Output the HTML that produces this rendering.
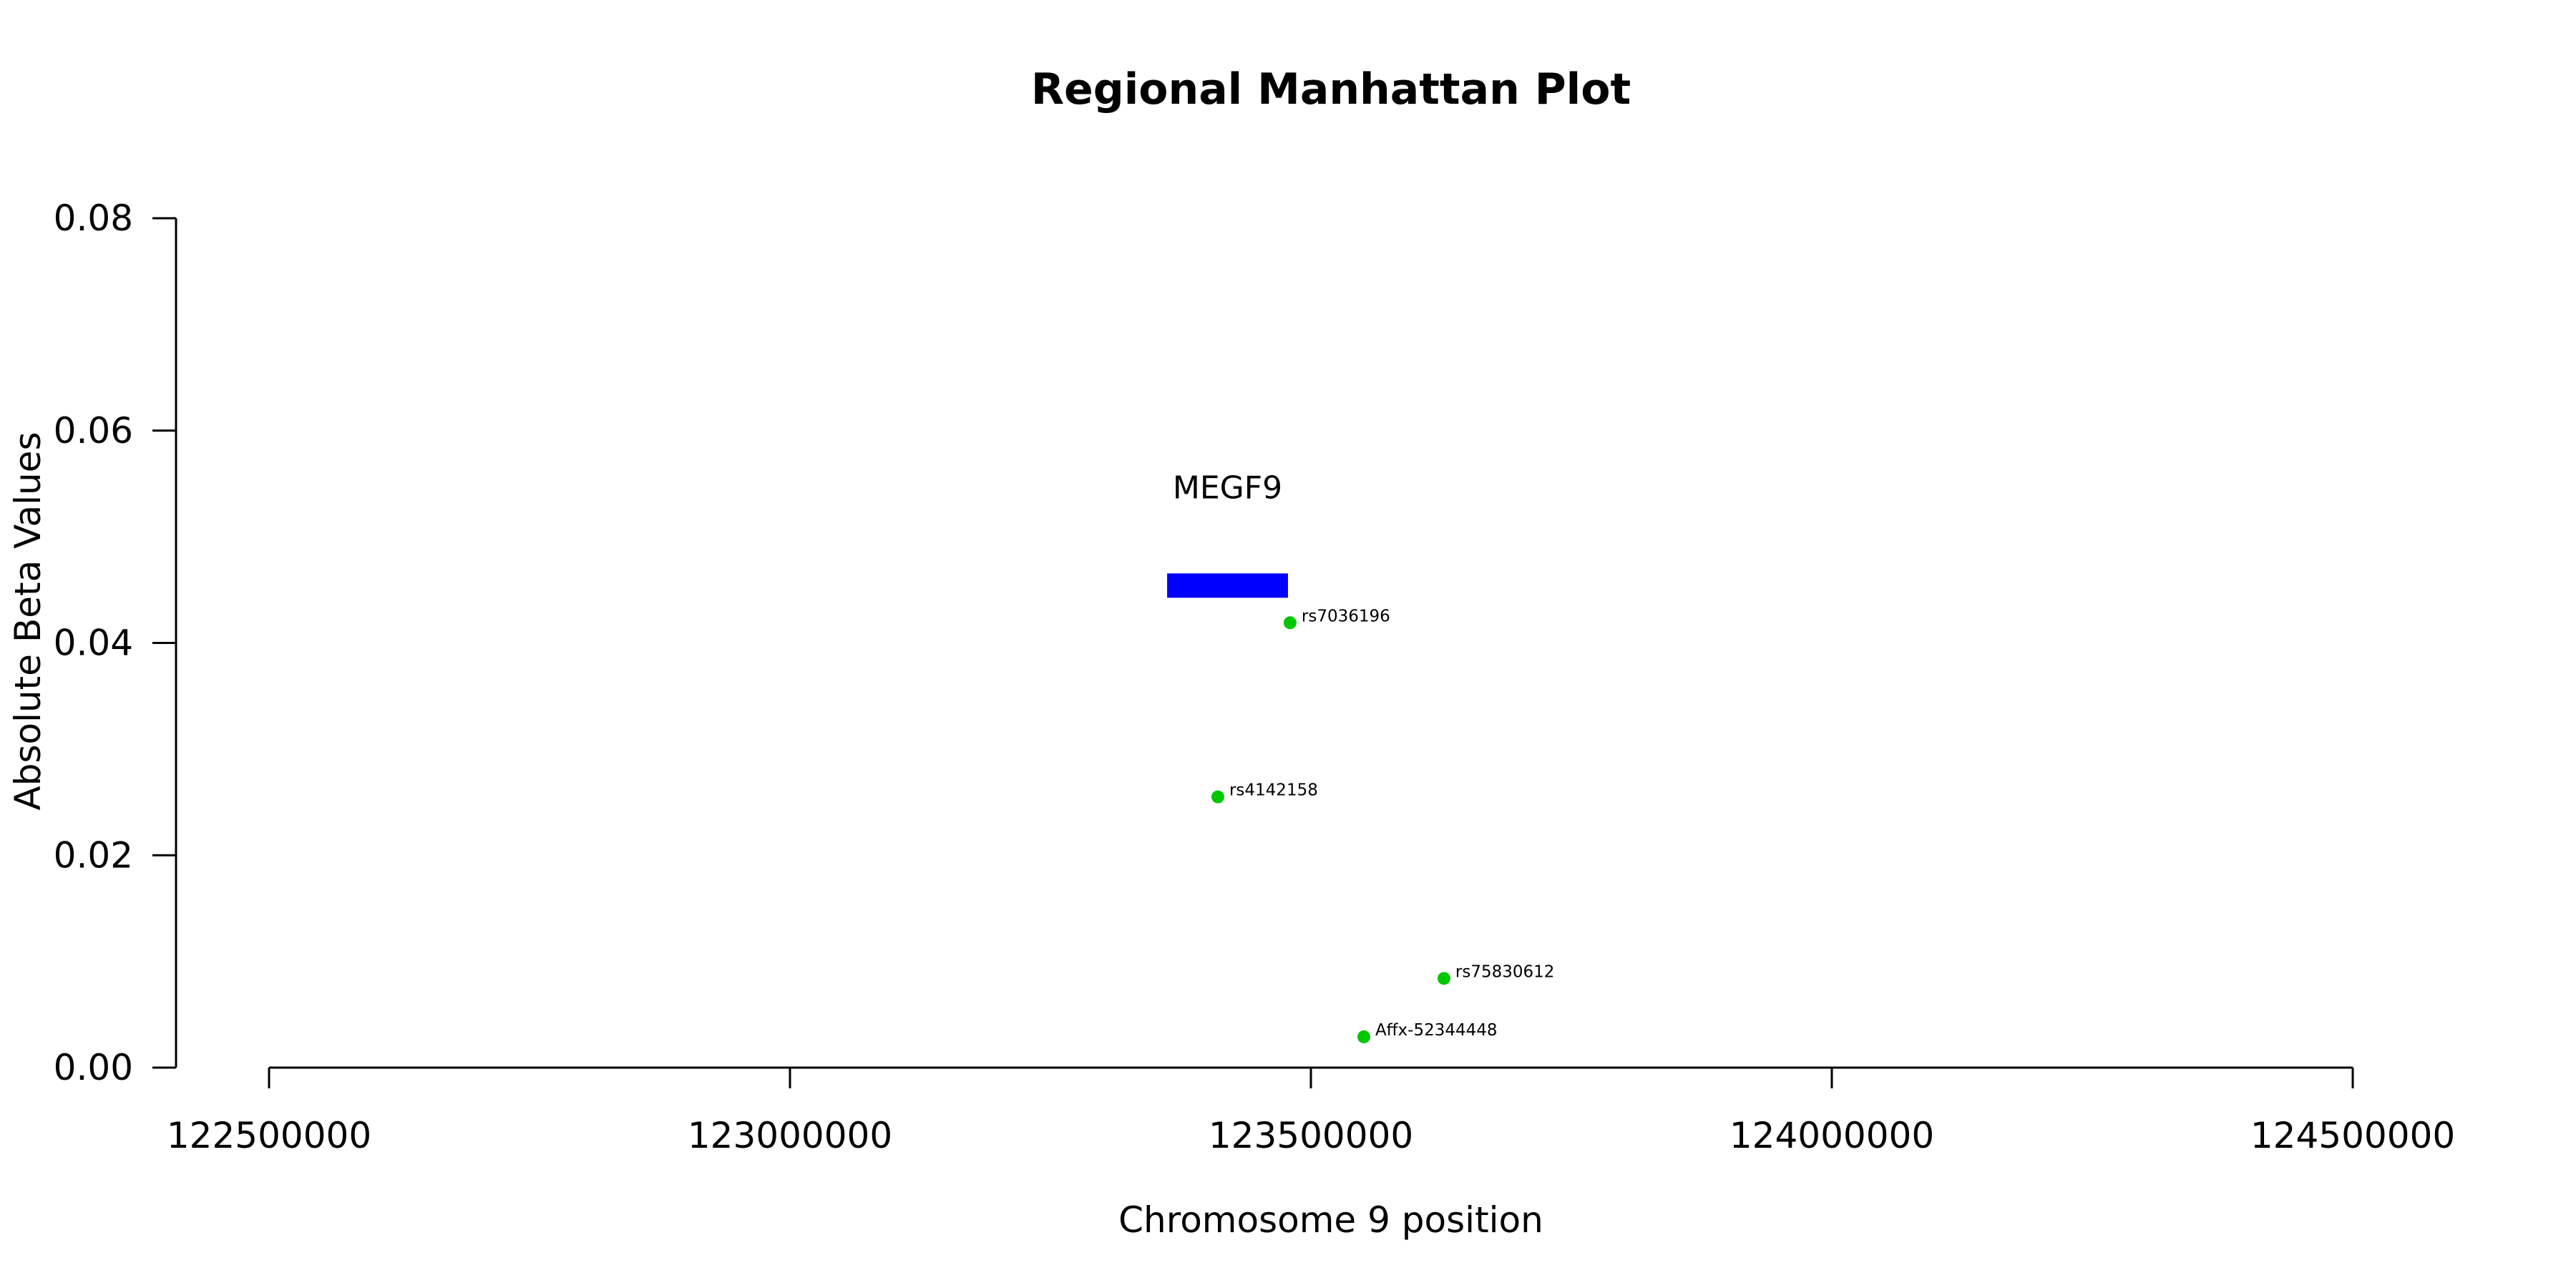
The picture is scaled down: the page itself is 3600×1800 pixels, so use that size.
<!DOCTYPE html>
<html><head><meta charset="utf-8"><style>
html,body{margin:0;padding:0;background:#fff;}
svg{display:block;font-family:"DejaVu Sans","Liberation Sans",sans-serif;}
</style></head><body>
<svg id="chart" width="3600" height="1800" viewBox="0 0 3600 1800" xmlns="http://www.w3.org/2000/svg">
<rect width="3600" height="1800" fill="#fff"/>
<text x="1860" y="145" text-anchor="middle" font-size="60" font-weight="bold">Regional Manhattan Plot</text>
<text x="1860" y="1722" text-anchor="middle" font-size="50">Chromosome 9 position</text>
<text transform="translate(56,868) rotate(-90)" text-anchor="middle" font-size="50">Absolute Beta Values</text>
<g id="axes"></g>
<g id="marks"></g>
</svg>
<script>
const xTicks = [122500000, 123000000, 123500000, 124000000, 124500000];
const yTicks = [0, 0.02, 0.04, 0.06, 0.08];
const yTickLabels = ["0.00", "0.02", "0.04", "0.06", "0.08"];
const snpNames = ["rs7036196", "rs4142158", "rs75830612", "Affx-52344448"];
const snpPositions = [123480000, 123410700, 123627700, 123550800];
const snpBetas = [0.0419, 0.0255, 0.0084, 0.0029];
const geneNames = ["MEGF9"];
const geneStarts = [123362000];
const geneEnds = [123478000];
const geneLevels = [0.0454];

const X0 = 376, X1 = 3288, Y0 = 1492, Y1 = 305;
const xMin = 122500000, xMax = 124500000, yMin = 0, yMax = 0.08;
function sx(v){ return X0 + (v - xMin) / (xMax - xMin) * (X1 - X0); }
function sy(v){ return Y0 - (v - yMin) / (yMax - yMin) * (Y0 - Y1); }
const NS = "http://www.w3.org/2000/svg";
function mk(tag, attrs, parent){
  const e = document.createElementNS(NS, tag);
  for (const k in attrs) e.setAttribute(k, attrs[k]);
  parent.appendChild(e);
  return e;
}
const axes = document.getElementById('axes');
const marks = document.getElementById('marks');

const yLine = mk('line', {x1:246, x2:246, y1:sy(yTicks[0]), y2:sy(yTicks[yTicks.length-1]), stroke:'#000', 'stroke-width':3}, axes);


yTicks.forEach((t, i) => {
  const tk = mk('line', {x1:213, x2:246, y1:sy(t), y2:sy(t), stroke:'#000', 'stroke-width':3}, axes);
  
  
  const lb = mk('text', {x:186, y:sy(t)+17, 'text-anchor':'end', 'font-size':50}, axes);
  lb.textContent = yTickLabels[i];
  
  
});
const xLine = mk('line', {x1:sx(xTicks[0]), x2:sx(xTicks[xTicks.length-1]), y1:1492, y2:1492, stroke:'#000', 'stroke-width':3}, axes);


xTicks.forEach(t => {
  const tk = mk('line', {x1:sx(t), x2:sx(t), y1:1492, y2:1521, stroke:'#000', 'stroke-width':3}, axes);
  
  
  const lb = mk('text', {x:sx(t), y:1604, 'text-anchor':'middle', 'font-size':50}, axes);
  lb.textContent = String(t);
  
  
});

geneNames.forEach((g, i) => {
  const x1 = sx(geneStarts[i]), x2 = sx(geneEnds[i]), yc = sy(geneLevels[i]);
  const r = mk('rect', {x:x1, y:yc-17, width:x2-x1, height:34, fill:'#0000ff'}, marks);
  
  
  const lb = mk('text', {x:(x1+x2)/2, y:yc-122, 'text-anchor':'middle', 'font-size':44}, marks);
  lb.textContent = g;
  
  
});

snpNames.forEach((n, i) => {
  const cx = sx(snpPositions[i]), cy = sy(snpBetas[i]);
  const c = mk('circle', {cx:cx, cy:cy, r:9, fill:'#00c800'}, marks);
  
  
  const lb = mk('text', {x:cx+16, y:cy-2, 'font-size':23}, marks);
  lb.textContent = n;
  
  
});
</script>
</body></html>
